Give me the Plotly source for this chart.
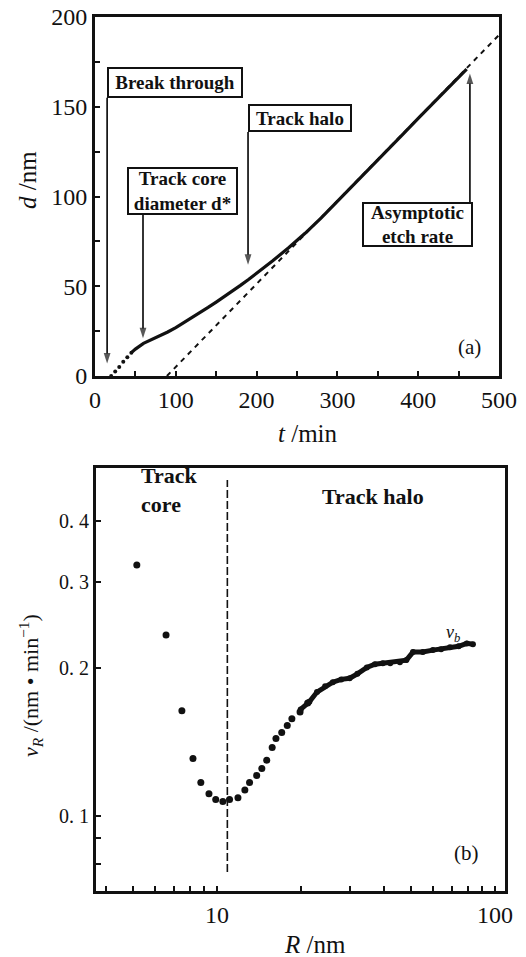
import plotly.graph_objects as go

# ---------------- data: panel (a) ----------------
t_early = [20, 25, 30, 35, 40, 45]
d_early = [0, 2.5, 5, 8, 10.5, 13]
t_main = [45, 50, 60, 70, 80, 90, 100, 110, 120, 130, 140, 150, 160, 170, 180, 190,
          200, 220, 240, 260, 280, 300, 320, 340, 360, 380, 400, 420, 440, 460]
d_main = [13, 15, 18.2, 20.2, 22.3, 24.5, 27, 29.7, 32.5, 35.3, 38.2, 41.2, 44.2, 47.3,
          50.5, 53.8, 57.2, 64.2, 71.6, 79.5, 88.1, 97.2, 106.5, 115.7, 125, 134.2,
          143.5, 152.8, 162, 171]
t_asym = [89, 500]
d_asym = [0, 190]

a_box_text = ["<b>Break through</b>", "<b>Track core<br>diameter d*</b>", "<b>Track halo</b>",
              "<b>Asymptotic<br>etch rate</b>"]
a_box_t = [99.0, 108.3, 253.7, 399.1]
a_box_d = [163.5, 103.1, 143.7, 84.4]
a_box_w = [128, 103, 96, 103]
a_box_h = [23, 40, 20, 37]
arrow_t = [15, 59.4, 189.4, 464]
arrow_from_d = [155, 89.7, 136, 97]
arrow_to_d = [7, 21, 62, 168.5]

# ---------------- data: panel (b) ----------------
R_sparse = [5.15, 6.56, 7.48, 8.2, 8.75, 9.36, 9.9, 10.5, 11.1, 11.9, 12.6, 13.1,
            13.9, 14.5, 15.1, 15.8, 16.3, 17.1, 17.9, 18.6, 19.9, 21.2]
v_sparse = [0.325, 0.234, 0.164, 0.131, 0.117, 0.111, 0.108, 0.107, 0.108, 0.109,
            0.113, 0.117, 0.121, 0.125, 0.130, 0.138, 0.144, 0.148, 0.153, 0.158,
            0.163, 0.170]
R_dense = [20, 21.5, 22.9, 24.5, 26.1, 28, 30, 32, 34.6, 37, 39.5, 42, 45.5, 48,
           50.7, 55, 59.8, 64, 68.9, 74, 79.2, 83.3]
v_dense = [0.165, 0.171, 0.179, 0.184, 0.1875, 0.190, 0.191, 0.195, 0.201, 0.204,
           0.205, 0.205, 0.206, 0.208, 0.216, 0.216, 0.218, 0.219, 0.221, 0.222,
           0.225, 0.224]
R_split = [10.9, 10.9]
v_split = [0.0769, 0.485]

x1_ticks = [0, 100, 200, 300, 400, 500]
y1_ticks = [0, 50, 100, 150, 200]
x2_ticks = [10, 100]
x2_minor = [4, 5, 6, 7, 8, 9, 20, 30, 40, 50, 60, 70, 80, 90]
y2_ticks = [0.1, 0.2, 0.3, 0.4]
y2_labels = ["0. 1", "0. 2", "0. 3", "0. 4"]
y2_minor = [0.08, 0.09]

FONT = "Liberation Serif, Times New Roman, serif"
BLACK = "#111111"

fig = go.Figure()

# panel (a)
fig.add_trace(go.Scatter(x=t_asym, y=d_asym, mode="lines", xaxis="x", yaxis="y",
                         line=dict(color=BLACK, width=2, dash="5px,5px"), showlegend=False))
fig.add_trace(go.Scatter(x=t_early, y=d_early, mode="markers", xaxis="x", yaxis="y",
                         marker=dict(color=BLACK, size=4), showlegend=False))
fig.add_trace(go.Scatter(x=t_main, y=d_main, mode="lines", xaxis="x", yaxis="y",
                         line=dict(color=BLACK, width=3.2), showlegend=False))
# arrows (line + arrow-head marker at the tip)
for at, fd, td in zip(arrow_t, arrow_from_d, arrow_to_d):
    fig.add_trace(go.Scatter(x=[at, at], y=[fd, td], mode="lines+markers",
                             xaxis="x", yaxis="y", line=dict(color=BLACK, width=1.7),
                             marker=dict(symbol="arrow", angleref="previous", size=[0, 11],
                                         color=BLACK, line=dict(width=0)),
                             showlegend=False, hoverinfo="skip"))

# panel (b)
fig.add_trace(go.Scatter(x=R_split, y=v_split, mode="lines", xaxis="x2", yaxis="y2",
                         line=dict(color=BLACK, width=1.6, dash="8px,3px"), showlegend=False))
fig.add_trace(go.Scatter(x=R_sparse, y=v_sparse, mode="markers", xaxis="x2", yaxis="y2",
                         marker=dict(color=BLACK, size=7), showlegend=False))
fig.add_trace(go.Scatter(x=R_dense, y=v_dense, mode="lines+markers", xaxis="x2", yaxis="y2",
                         line=dict(color=BLACK, width=5), marker=dict(color=BLACK, size=6),
                         showlegend=False))

axis_common = dict(showgrid=False, zeroline=False, showline=True, linecolor=BLACK,
                   linewidth=3, mirror=True, ticks="inside", tickcolor=BLACK,
                   tickwidth=2, ticklen=5, automargin=False)

fig.update_layout(
    width=526, height=957,
    margin=dict(l=0, r=0, t=0, b=0, autoexpand=False),
    paper_bgcolor="white", plot_bgcolor="white",
    font=dict(family=FONT, color=BLACK),
    xaxis=dict(domain=[95 / 526, 499 / 526], anchor="y", range=[0, 500],
               tickmode="array", tickvals=x1_ticks, tickfont=dict(size=24),
               minor=dict(tickvals=[50, 150, 250, 350, 450], ticks="inside", ticklen=5,
                          tickwidth=2, tickcolor=BLACK),
               **axis_common),
    yaxis=dict(domain=[1 - 376 / 957, 1 - 17 / 957], anchor="x", range=[0, 200],
               tickmode="array", tickvals=y1_ticks, tickfont=dict(size=24),
               minor=dict(tickvals=[25, 75, 125, 175], ticks="inside", ticklen=5,
                          tickwidth=2, tickcolor=BLACK),
               **axis_common),
    xaxis2=dict(domain=[96 / 526, 505 / 526], anchor="y2", type="log",
                range=[0.565, 2.036], tickmode="array", tickvals=x2_ticks,
                ticktext=["10", "100"], tickfont=dict(size=24),
                minor=dict(tickvals=x2_minor, ticks="inside", ticklen=5, tickwidth=2,
                           tickcolor=BLACK),
                **axis_common),
    yaxis2=dict(domain=[1 - 891 / 957, 1 - 468 / 957], anchor="x2", type="log",
                range=[-1.153, -0.290], tickmode="array", tickvals=y2_ticks,
                ticktext=y2_labels, tickfont=dict(size=20),
                minor=dict(tickvals=y2_minor, ticks="inside", ticklen=5, tickwidth=2,
                           tickcolor=BLACK),
                **axis_common),
)

ann = []
# boxes in panel (a)
for txt, bt, bd, w, h in zip(a_box_text, a_box_t, a_box_d, a_box_w, a_box_h):
    ann.append(dict(x=bt, y=bd, xref="x", yref="y", text=txt, showarrow=False,
                    xanchor="center", yanchor="middle", align="center", width=w, height=h,
                    font=dict(size=19, family=FONT, color=BLACK), bgcolor="white",
                    bordercolor=BLACK, borderwidth=2, borderpad=2))

C = dict(xanchor="center", yanchor="middle", showarrow=False)
ann += [
    dict(x=464, y=16, xref="x", yref="y", text="(a)", font=dict(size=21, family=FONT), **C),
    dict(x=308 / 526, y=1 - 433 / 957, xref="paper", yref="paper",
         text="<i>t</i> /min", font=dict(size=25, family=FONT), **C),
    dict(x=28 / 526, y=1 - 180 / 957, xref="paper", yref="paper",
         text="<i>d</i> /nm", textangle=-90, font=dict(size=25, family=FONT), **C),
    # panel (b)
    dict(x=0.831, y=-0.3355, xref="x2", yref="y2", text="<b>Track<br>core</b>",
         align="left", font=dict(size=22, family=FONT), **C),
    dict(x=1.561, y=-0.3475, xref="x2", yref="y2", text="<b>Track halo</b>",
         font=dict(size=22, family=FONT), **C),
    dict(x=1.849, y=-0.627, xref="x2", yref="y2", text="<i>v<sub>b</sub></i>",
         font=dict(size=18, family=FONT), **C),
    dict(x=1.899, y=-1.0755, xref="x2", yref="y2", text="(b)",
         font=dict(size=21, family=FONT), **C),
    dict(x=315 / 526, y=1 - 944 / 957, xref="paper", yref="paper",
         text="<i>R</i> /nm", font=dict(size=25, family=FONT), **C),
    dict(x=30 / 526, y=1 - 686 / 957, xref="paper", yref="paper",
         text="<i>v<sub>R</sub></i> /(nm • min<sup>−1</sup>)", textangle=-90,
         font=dict(size=22, family=FONT), **C),
]
fig.update_layout(annotations=ann)

fig.write_html("out.html")
